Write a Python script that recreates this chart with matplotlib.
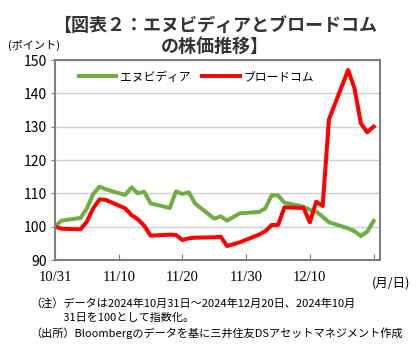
import matplotlib
matplotlib.use("Agg")
import matplotlib.pyplot as plt
import numpy as np

plt.rcParams['font.family'] = ['Noto Sans CJK JP', 'DejaVu Sans']

# trading days, as day offset from 2024-10-31
dates = ["10/31", "11/1", "11/4", "11/5", "11/6", "11/7", "11/8",
         "11/11", "11/12", "11/13", "11/14", "11/15",
         "11/18", "11/19", "11/20", "11/21", "11/22",
         "11/25", "11/26", "11/27", "11/29",
         "12/2", "12/3", "12/4", "12/5", "12/6",
         "12/9", "12/10", "12/11", "12/12", "12/13",
         "12/16", "12/17", "12/18", "12/19", "12/20"]
days = [0, 1, 4, 5, 6, 7, 8,
        11, 12, 13, 14, 15,
        18, 19, 20, 21, 22,
        25, 26, 27, 29,
        32, 33, 34, 35, 36,
        39, 40, 41, 42, 43,
        46, 47, 48, 49, 50]

nvda = [100, 101.8, 102.6, 105.5, 109.8, 112.0, 111.2,
        109.5, 111.8, 110.0, 110.5, 107.0,
        105.6, 110.6, 109.8, 110.3, 106.9,
        102.4, 103.1, 101.8, 104.0,
        104.4, 105.5, 109.4, 109.4, 107.2,
        106.0, 105.0, 104.5, 103.0, 101.3,
        99.5, 98.6, 97.2, 98.5, 101.7]
avgo = [100, 99.4, 99.2, 101.5, 105.5, 108.2, 108.0,
        105.5, 103.5, 102.2, 100.3, 97.3,
        97.6, 97.5, 96.0, 96.5, 96.7,
        96.8, 97.0, 94.2, 95.3,
        97.6, 98.6, 100.5, 100.5, 105.8,
        105.6, 101.3, 107.5, 106.2, 132.2,
        147.0, 141.5, 131.0, 128.3, 130.0]

tick_days = [0, 10, 20, 30, 40]
tick_labels = ["10/31", "11/10", "11/20", "11/30", "12/10"]

fig = plt.figure(figsize=(4.17, 3.55), dpi=100)
ax = fig.add_axes([55/417, 1-260/355, 325/417, 200/355])

ax.plot(days, nvda, color="#70AD47", lw=2.9, label="エヌビディア", solid_joinstyle="round")
ax.plot(days, avgo, color="#FF0000", lw=2.9, label="ブロードコム", solid_joinstyle="round")

ax.set_xlim(0, 51)
ax.set_ylim(90, 150)
ax.set_yticks(range(90, 151, 10))
ax.set_xticks(tick_days + [50])
ax.set_xticklabels(tick_labels + [""], family=["Liberation Serif"], fontsize=10.5)
ax.tick_params(axis="x", direction="in", length=4, color="#808080", pad=8)
ax.tick_params(axis="y", length=3, color="#808080", labelsize=10, pad=3)
ax.grid(axis="y", color="#d0d0d0", lw=1)
for s in ax.spines.values():
    s.set_color("#808080")
    s.set_linewidth(1.5)

ax.legend(loc="upper left", bbox_to_anchor=(0.04, 1.0), ncol=2, frameon=False,
          fontsize=8.5, handlelength=3.2, handletextpad=0.3, columnspacing=1.0)

fig.text(0.515, 0.955, "【図表２：エヌビディアとブロードコム\nの株価推移】", ha="center", va="top",
         fontsize=13, fontweight="bold", color="#333333", linespacing=1.1)
fig.text(8/417, 1-45/355, "(ポイント)", fontsize=8, va="center", ha="left")
fig.text(372/417, 1-283/355, "(月/日)", fontsize=9, va="center", ha="left")

notes = ["（注）データは2024年10月31日～2024年12月20日、2024年10月",
         "　　　31日を100として指数化。",
         "（出所）Bloombergのデータを基に三井住友DSアセットマネジメント作成"]
for i, n in enumerate(notes):
    fig.text(30/417, 1-(303+15*i)/355, n, fontsize=8, va="center", ha="left")

fig.savefig("out.png", dpi=100)
